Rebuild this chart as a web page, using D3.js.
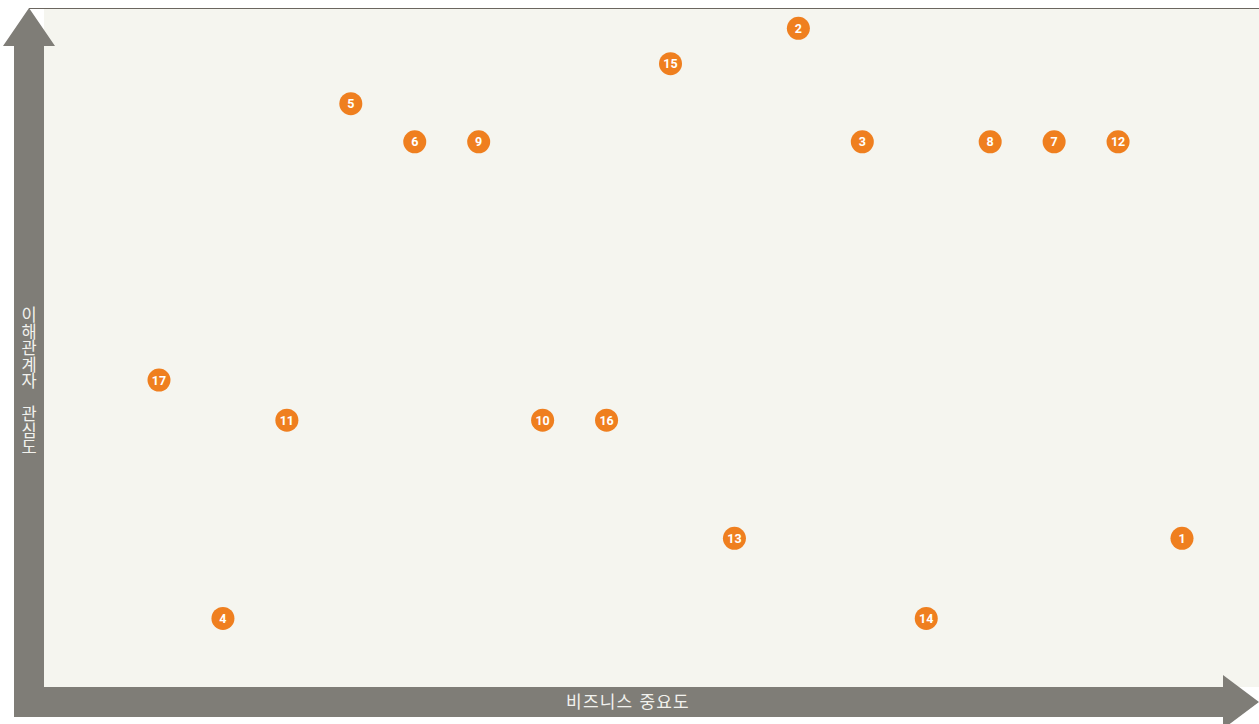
<!DOCTYPE html>
<html lang="ko">
<head>
  <meta charset="UTF-8" />
  <title>이해관계자 관심도 / 비즈니스 중요도</title>
  <script src="https://d3js.org/d3.v7.min.js"></script>
  <style>
    body { margin: 0; background: #fff; font-family: 'Noto Sans CJK KR', 'Noto Sans', sans-serif; }
    svg { display: block; }
    .vlabel { writing-mode: vertical-rl; text-orientation: upright; }
  </style>
</head>
<body>
  <svg></svg>
  <script>
    // issue ids, business importance rank (x) and stakeholder interest score (y)
    const ids = [1, 2, 3, 4, 5, 6, 7, 8, 9, 10, 11, 12, 13, 14, 15, 16, 17];
    const importance = [17, 11, 12, 2, 4, 5, 15, 14, 6, 7, 3, 16, 10, 13, 9, 8, 1];
    const interest = [21.9, 97, 80.3, 10.1, 85.9, 80.3, 80.3, 80.3, 80.3, 39.3, 39.3, 80.3, 21.9, 10.1, 91.8, 39.3, 45.2];
    const xLabel = "비즈니스 중요도";
    const yLabel = "이해관계자 관심도";

    const width = 1259, height = 724;
    const plot = { left: 44, right: 1259, top: 8, bottom: 687 };
    const axisColor = "#7f7d77";

    const svg = d3.select("svg").attr("width", width).attr("height", height);

    svg.append("rect")
      .attr("x", plot.left).attr("y", plot.top)
      .attr("width", plot.right - plot.left).attr("height", plot.bottom - plot.top)
      .attr("fill", "#f5f5ef");
    svg.append("line")
      .attr("x1", 29).attr("x2", plot.right)
      .attr("y1", plot.top + 0.5).attr("y2", plot.top + 0.5)
      .attr("stroke", "#6b665f").attr("stroke-width", 1);

    const x = d3.scaleLinear().domain([1, 17]).range([159, 1182]);
    const y = d3.scaleLinear().domain([0, 100]).range([plot.bottom, plot.top]);

    // axis arrows
    svg.append("path")
      .attr("fill", axisColor)
      .attr("d", "M14,717 L14,46 L3,46 L29,8 L55,46 L44,46 L44,717 Z");
    svg.append("path")
      .attr("fill", axisColor)
      .attr("d", "M14,687 L1223,687 L1223,675 L1259,702 L1223,729 L1223,717 L14,717 Z");

    svg.append("text")
      .attr("x", 628).attr("y", 702)
      .attr("dy", "0.35em")
      .attr("text-anchor", "middle")
      .attr("fill", "#f2f2ee")
      .style("font-size", "17px")
      .style("letter-spacing", "1.2px")
      .text(xLabel);

    // vertical label, upright stacked characters
    svg.append("text")
      .attr("class", "vlabel")
      .attr("x", 29).attr("y", 381)
      .attr("text-anchor", "middle")
      .attr("fill", "#f2f2ee")
      .style("font-size", "16.5px")
      .text(yLabel);

    const points = ids.map((id, i) => ({ id, x: importance[i], y: interest[i] }));

    const node = svg.append("g").selectAll("g")
      .data(points)
      .join("g")
      .attr("transform", d => `translate(${x(d.x)},${y(d.y)})`);

    node.append("circle")
      .attr("r", 11.5)
      .attr("fill", "#ef7f1f");

    node.append("text")
      .attr("dy", "0.36em")
      .attr("text-anchor", "middle")
      .attr("fill", "#fff")
      .style("font-family", "Roboto, sans-serif")
      .style("font-weight", "bold")
      .style("font-size", "12.5px")
      .text(d => d.id);
  </script>
</body>
</html>
